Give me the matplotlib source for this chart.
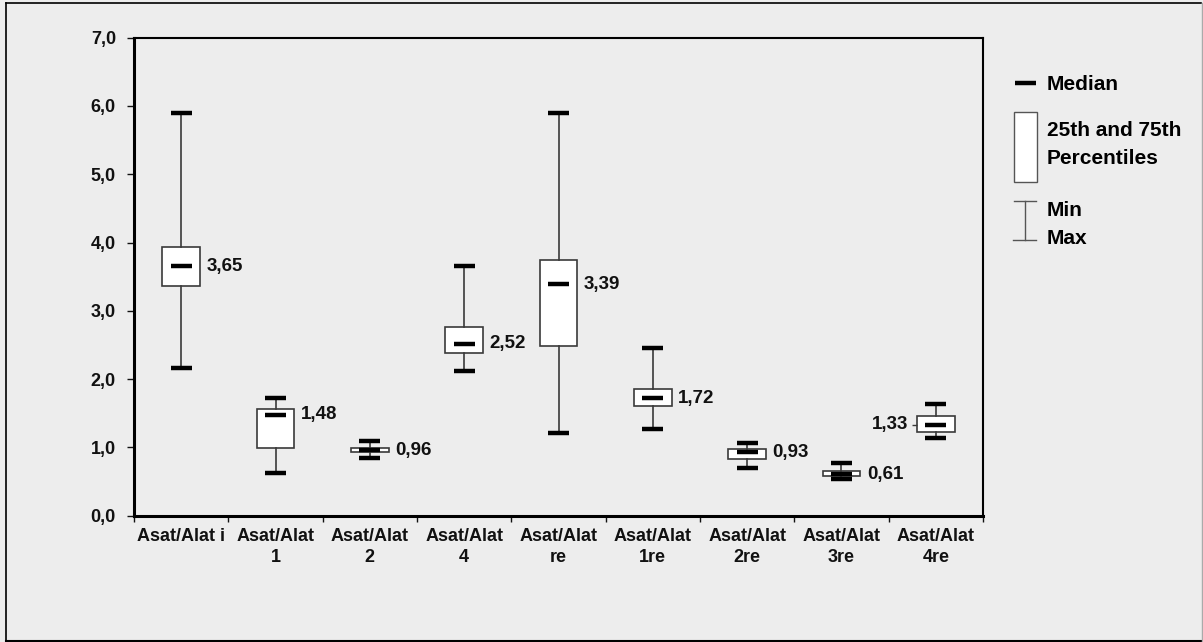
import matplotlib
matplotlib.use("Agg")
import matplotlib.pyplot as plt
from matplotlib.patches import Rectangle

plt.rcParams['font.family'] = ['Liberation Sans', 'DejaVu Sans']
plt.rcParams['font.weight'] = 'bold'

# Liver enzyme ratio summaries
categories = ["Asat/Alat i", "Asat/Alat\n1", "Asat/Alat\n2", "Asat/Alat\n4",
              "Asat/Alat\nre", "Asat/Alat\n1re", "Asat/Alat\n2re", "Asat/Alat\n3re",
              "Asat/Alat\n4re"]
minimum = [2.16, 0.63, 0.84, 2.12, 1.21, 1.27, 0.70, 0.54, 1.14]
q25 = [3.37, 0.99, 0.93, 2.38, 2.49, 1.60, 0.83, 0.58, 1.23]
median = [3.65, 1.48, 0.96, 2.52, 3.39, 1.72, 0.93, 0.61, 1.33]
q75 = [3.94, 1.56, 0.99, 2.77, 3.74, 1.86, 0.97, 0.65, 1.46]
maximum = [5.89, 1.73, 1.10, 3.66, 5.89, 2.46, 1.07, 0.77, 1.63]
median_labels = ["3,65", "1,48", "0,96", "2,52", "3,39", "1,72", "0,93", "0,61", "1,33"]
label_left = [False] * 8 + [True]
yticks = [0, 1, 2, 3, 4, 5, 6, 7]
ytick_labels = ["0,0", "1,0", "2,0", "3,0", "4,0", "5,0", "6,0", "7,0"]

BG = "#ededed"
W, H = 1203, 642
fig = plt.figure(figsize=(W / 100, H / 100), dpi=100, facecolor=BG)
ax = fig.add_axes([134 / W, 1 - 515.7 / H, (983 - 134) / W, (515.7 - 37.7) / H])
ax.set_facecolor(BG)

positions = list(range(len(categories)))
stats = [dict(whislo=lo, q1=a, med=m, q3=b, whishi=hi, fliers=[])
         for lo, a, m, b, hi in zip(minimum, q25, median, q75, maximum)]
box_w = 0.40
cap_w = 0.22
ax.bxp(stats, positions=positions, widths=box_w, capwidths=cap_w,
       patch_artist=True, showfliers=False,
       boxprops=dict(facecolor="white", edgecolor="#3a3a3a", linewidth=1.2),
       whiskerprops=dict(color="#3a3a3a", linewidth=1.2),
       capprops=dict(color="black", linewidth=3.2, solid_capstyle="butt"),
       medianprops=dict(visible=False), manage_ticks=False)

# short thick median bars
ax.hlines(median, [p - cap_w / 2 for p in positions], [p + cap_w / 2 for p in positions],
          colors="black", linewidth=3.2, zorder=5)

# median value labels
for p, m, txt, left in zip(positions, median, median_labels, label_left):
    if left:
        ax.hlines(m, p - box_w / 2 - 0.05, p - box_w / 2, colors="#3a3a3a", linewidth=1.0)
        ax.text(p - box_w / 2 - 0.09, m, txt, ha="right", va="center",
                fontsize=13.5, fontweight="bold", color="#111111")
    else:
        ax.text(p + box_w / 2 + 0.07, m, txt, ha="left", va="center",
                fontsize=13.5, fontweight="bold", color="#111111")

ax.set_xlim(-0.5, len(categories) - 0.5)
ax.set_ylim(0, 7)
ax.set_yticks(yticks)
ax.set_yticklabels(ytick_labels, fontsize=13, fontweight="bold")
ax.tick_params(axis="y", direction="out", length=5, width=1, pad=8, colors="#111111")

ax.set_xticks(positions)
ax.set_xticklabels(categories, fontsize=13, fontweight="bold", linespacing=1.3)
ax.set_xticks([p - 0.5 for p in positions] + [positions[-1] + 0.5], minor=True)
ax.tick_params(axis="x", which="major", length=0, pad=9, colors="#111111")
ax.tick_params(axis="x", which="minor", direction="out", length=4, width=1, color="#111111")

for side in ("left", "bottom"):
    ax.spines[side].set_linewidth(2.2)
for side in ("top", "right"):
    ax.spines[side].set_linewidth(1.5)
for s in ax.spines.values():
    s.set_color("black")

# legend panel drawn in pixel coordinates
ov = fig.add_axes([0, 0, 1, 1], facecolor="none")
ov.set_xlim(0, W)
ov.set_ylim(H, 0)
ov.axis("off")
ov.plot([1015, 1036], [83, 83], color="black", linewidth=3.2, solid_capstyle="butt")
ov.text(1047, 84, "Median", ha="left", va="center", fontsize=15, fontweight="bold")
ov.add_patch(Rectangle((1014, 111.7), 22.5, 70.6, facecolor="white",
                       edgecolor="#555555", linewidth=1.0))
ov.text(1047, 130, "25th and 75th", ha="left", va="center", fontsize=15, fontweight="bold")
ov.text(1047, 159, "Percentiles", ha="left", va="center", fontsize=15, fontweight="bold")
ov.plot([1014, 1036], [201, 201], color="#555555", linewidth=1.0)
ov.plot([1013, 1036], [240, 240], color="#555555", linewidth=1.0)
ov.plot([1025, 1025], [201, 240], color="#555555", linewidth=1.0)
ov.text(1047, 211, "Min", ha="left", va="center", fontsize=15, fontweight="bold")
ov.text(1047, 239, "Max", ha="left", va="center", fontsize=15, fontweight="bold")

# outer frame
ov.plot([6, 1201], [3, 3], color="black", linewidth=1.2)
ov.plot([6, 6], [3, 641], color="black", linewidth=1.2)
ov.plot([6, 1201], [641, 641], color="black", linewidth=1.5)
ov.plot([1201.5, 1201.5], [3, 641], color="#aaaaaa", linewidth=1.0)

fig.savefig("out.png", dpi=100, facecolor=BG)
